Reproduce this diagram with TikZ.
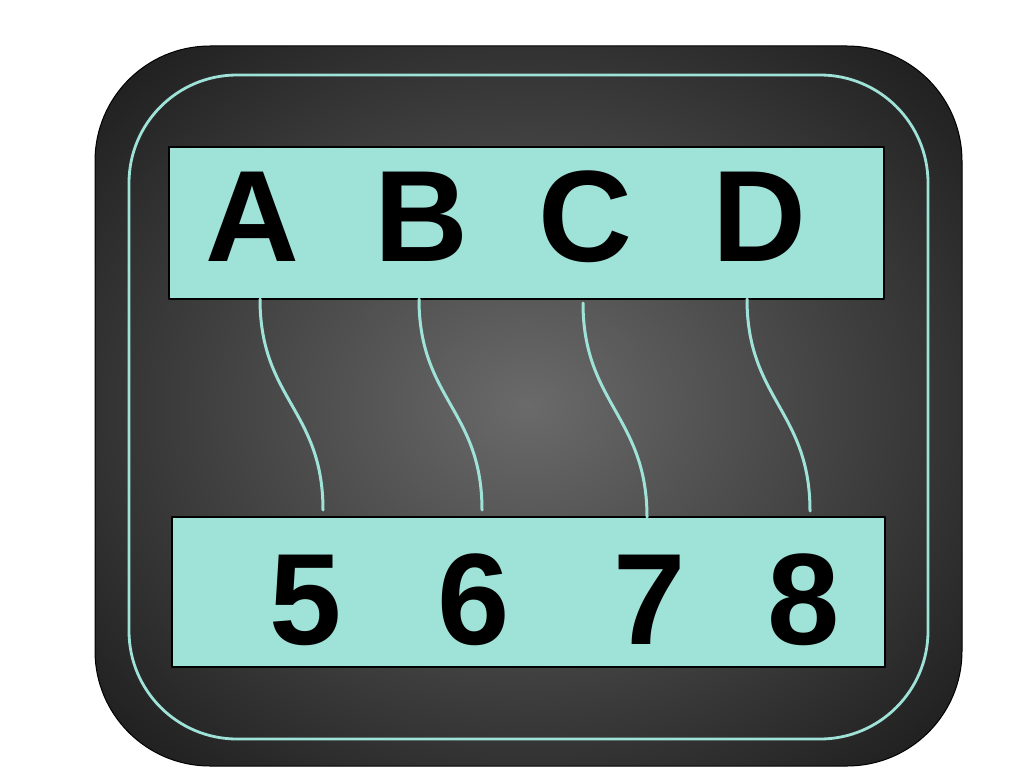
\documentclass[tikz,border=0pt]{standalone}
\usepackage{fontspec}
\setmainfont{Liberation Sans}
\definecolor{pinteal}{RGB}{159,226,216}
\definecolor{glowmid}{RGB}{106,106,106}
\definecolor{glowedge}{RGB}{34,34,34}
\pgfdeclareradialshading{panelglow}{\pgfpoint{0bp}{0bp}}{color(0bp)=(glowmid); color(32bp)=(glowedge); color(80bp)=(glowedge)}
\tikzset{
    pinbox/.style={draw=black, fill=pinteal, line width=1.2pt, inner sep=0pt},
    pinlabel/.style={anchor=base, inner sep=0pt, font=\fontsize{130}{130}\bfseries},
    wire/.style={draw=pinteal, line width=3pt}
}
\begin{document}
\begin{tikzpicture}[x=1pt, y=-1pt, line join=round, line cap=round]
            \useasboundingbox (0,0) rectangle (1024,768);
            \shade[shading=panelglow, draw=black, line width=1pt, rounded corners=115pt] (95,46) rectangle (962,766);
            \draw[pinteal, line width=2.8pt, rounded corners=108pt] (129,75) rectangle (928,739);
            \node[pinbox, minimum width=715pt, minimum height=152pt] (top) at (526.5,223) {};
            \node[pinbox, minimum width=713pt, minimum height=150pt] (bot) at (528.5,592) {};
            % letters above, numbers below
            \foreach \x/\t in {252/A, 421/B, 585/C, 759/D}{
                \node[pinlabel] (l\t) at (\x,261) {\t};
            }
            \foreach \x/\t in {306/5, 474/6, 650/7, 804/8}{
                \node[pinlabel] (n\t) at (\x,644) {\t};
            }
            % wires
            \foreach \xa/\ya/\xb/\yb/\n in {260/299/323/510/1, 419/299/482/510/2, 583/303/647/517/3, 747/299/810/511/4}{
                \coordinate (w\n a) at (\xa,\ya);
                \coordinate (w\n b) at (\xb,\yb);
                \draw[wire] (w\n a) .. controls +(0,100) and +(0,-100) .. (w\n b);
            }
        \end{tikzpicture}
\end{document}
